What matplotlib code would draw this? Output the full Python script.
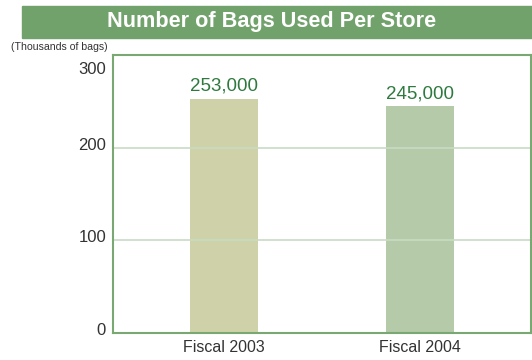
import matplotlib
matplotlib.use("Agg")
import matplotlib.pyplot as plt
import matplotlib.transforms as mtrans
from matplotlib.patches import Rectangle

# data
years = ["Fiscal 2003", "Fiscal 2004"]
bags = [253, 245]  # thousands of bags
bag_labels = ["253,000", "245,000"]
yticks = [0, 100, 200, 300]

bar_colors = ["#cfd2a8", "#b5caa8"]
green = "#72a26c"
spine_green = "#7aa873"
grid_green = "#c8dbc3"
label_green = "#2e7a3e"

plt.rcParams["font.family"] = ["Liberation Sans", "DejaVu Sans"]

fig = plt.figure(figsize=(5.32, 3.60), dpi=100)
ax = fig.add_axes([113 / 532, 1 - 333 / 360, 418 / 532, 278 / 360])

x = range(len(years))
ax.bar(x, bags, width=0.347, color=bar_colors, zorder=1)
for xi, v, lab in zip(x, bags, bag_labels):
    ax.text(xi, v + 4, lab, ha="center", va="bottom", fontsize=13.5,
            color=label_green)

ax.set_xlim(-0.566, 1.566)
ax.set_ylim(0, 300)
for y in [100, 200]:
    ax.axhline(y, color=grid_green, lw=1.2, zorder=2)

ax.set_xticks(list(x))
ax.set_xticklabels(years, fontsize=11.5, color="#333333")
ax.set_yticks(yticks)
ax.set_yticklabels([str(t) for t in yticks], fontsize=12, color="#333333")
ax.tick_params(axis="y", length=0, pad=5)
ax.tick_params(axis="x", length=0, pad=5)
# labels sit a little above their gridlines; top label sits below the frame top
for t, lab in zip(yticks, ax.get_yticklabels()):
    dy = 4 if t < 300 else -13
    lab.set_transform(lab.get_transform() +
                      mtrans.ScaledTranslation(0, dy / 100, fig.dpi_scale_trans))
for s in ax.spines.values():
    s.set_color(spine_green)
    s.set_linewidth(1.5)

# banner title
fig.patches.append(Rectangle((22 / 532, 1 - 38 / 360), 510 / 532, 32 / 360,
                             transform=fig.transFigure, color=green, zorder=0))
fig.text(272 / 532, 1 - 22 / 360, "Number of Bags Used Per Store",
         ha="center", va="center", fontsize=15.6, fontweight="bold", color="white")

fig.text(108 / 532, 1 - 47 / 360, "(Thousands of bags)", ha="right",
         va="center", fontsize=7.6, color="#333333")

fig.savefig("out.png", dpi=100)
